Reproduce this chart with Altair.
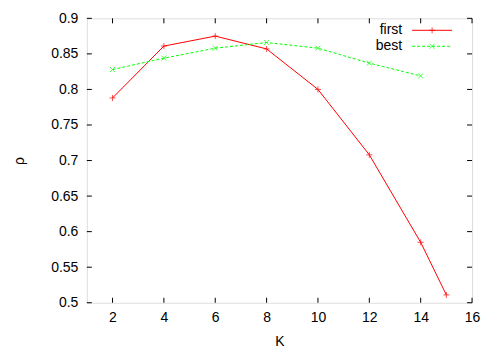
import altair as alt
import pandas as pd

K_first = [2, 4, 6, 8, 10, 12, 14, 15]
rho_first = [0.788, 0.861, 0.875, 0.857, 0.800, 0.708, 0.585, 0.511]
K_best = [2, 4, 6, 8, 10, 12, 14]
rho_best = [0.828, 0.844, 0.858, 0.866, 0.858, 0.837, 0.819]
x_ticks = [2, 4, 6, 8, 10, 12, 14, 16]
y_ticks = [0.5, 0.55, 0.6, 0.65, 0.7, 0.75, 0.8, 0.85, 0.9]
series = ["first", "best"]
colors = ["#ff0000", "#00ff00"]

W, H = 386, 285
FONT = "Liberation Sans"
FS = 14

df_first = pd.DataFrame({"K": K_first, "rho": rho_first})
df_best = pd.DataFrame({"K": K_best, "rho": rho_best})

xs = alt.Scale(domain=[1, 16], nice=False)
ys = alt.Scale(domain=[0.5, 0.9], nice=False, zero=False)

xaxis = alt.Axis(values=x_ticks, ticks=False, domain=False, grid=False,
                 labelFont=FONT, labelFontSize=FS, labelColor="#000",
                 labelOverlap=False, labelFlush=False,
                 labelPadding=8, title="K", titleFont=FONT, titleFontSize=FS,
                 titleFontWeight="normal", titleColor="#000", titlePadding=10)
yaxis = alt.Axis(values=y_ticks, ticks=False, domain=False, grid=False,
                 labelFont=FONT, labelFontSize=FS, labelColor="#000",
                 labelOverlap=False, labelFlush=False,
                 labelPadding=9, format=".2~f", title="ρ", titleFont=FONT,
                 titleFontSize=FS, titleFontWeight="normal", titleColor="#000",
                 titleX=-67, titleY=H / 2, titleAngle=270, titleBaseline="middle",
                 titleAlign="center")

PLUS = "M-1,0L1,0M0,-1L0,1"
XSYM = "M-1,-1L1,1M-1,1L1,-1"


def X(f):
    return alt.X(f, scale=xs, axis=xaxis, title="K")


def Y(f):
    return alt.Y(f, scale=ys, axis=yaxis, title="ρ")


line_first = alt.Chart(df_first).mark_line(color=colors[0], strokeWidth=1).encode(
    x=X("K:Q"), y=Y("rho:Q"))
pts_first = alt.Chart(df_first).mark_point(shape=PLUS, size=36, color=colors[0],
                                           strokeWidth=1, filled=False).encode(
    x=X("K:Q"), y=Y("rho:Q"))
line_best = alt.Chart(df_best).mark_line(color=colors[1], strokeWidth=1,
                                         strokeDash=[3, 2]).encode(
    x=X("K:Q"), y=Y("rho:Q"))
pts_best = alt.Chart(df_best).mark_point(shape=XSYM, size=25, color=colors[1],
                                         strokeWidth=1, filled=False).encode(
    x=X("K:Q"), y=Y("rho:Q"))

# inward ticks on all four sides
dfx = pd.DataFrame({"t": x_ticks})
dfy = pd.DataFrame({"t": y_ticks})
tick_style = dict(color="#000", strokeWidth=1)
tb = alt.Chart(dfx).mark_rule(**tick_style).encode(
    x=X("t:Q"), y=alt.value(H), y2=alt.value(H - 5))
tt = alt.Chart(dfx).mark_rule(**tick_style).encode(
    x=X("t:Q"), y=alt.value(0), y2=alt.value(5))
tl = alt.Chart(dfy).mark_rule(**tick_style).encode(
    y=Y("t:Q"), x=alt.value(0), x2=alt.value(5))
tr = alt.Chart(dfy).mark_rule(**tick_style).encode(
    y=Y("t:Q"), x=alt.value(W), x2=alt.value(W - 5))

# legend (gnuplot style: label then sample)
leg = []
for i, (name, col) in enumerate(zip(series, colors)):
    yy = 12 + i * 16
    d = pd.DataFrame({"name": [name]})
    leg.append(alt.Chart(d).mark_text(align="right", baseline="middle", font=FONT,
                                      fontSize=FS, color="#000").encode(
        text="name:N", x=alt.value(316), y=alt.value(yy)))
    rule_kw = dict(color=col, strokeWidth=1)
    if i == 1:
        rule_kw["strokeDash"] = [3, 2]
    leg.append(alt.Chart(d).mark_rule(**rule_kw).encode(
        x=alt.value(326), x2=alt.value(366), y=alt.value(yy)))
    leg.append(alt.Chart(d).mark_point(shape=PLUS if i == 0 else XSYM,
                                       size=36 if i == 0 else 25, color=col,
                                       strokeWidth=1, filled=False).encode(
        x=alt.value(346), y=alt.value(yy)))

chart = alt.layer(line_first, pts_first, line_best, pts_best, tb, tt, tl, tr, *leg).properties(
    width=W, height=H,
    padding={"left": 79, "top": 10, "right": 18, "bottom": 46},
    autosize=alt.AutoSizeParams(type="none"),
).configure_view(stroke="#000", strokeWidth=1).configure(background="white")

chart.save("out.html", embed_options={"renderer": "svg", "actions": False})
